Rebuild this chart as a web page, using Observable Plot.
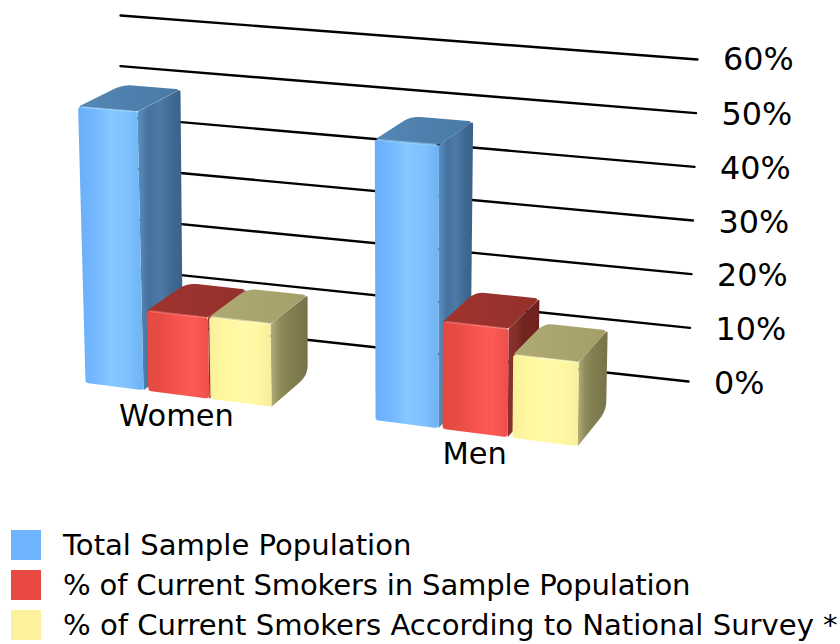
<!DOCTYPE html>
<html><head><meta charset="utf-8">
<script src="https://cdn.jsdelivr.net/npm/d3@7"></script>
<script src="https://cdn.jsdelivr.net/npm/@observablehq/plot@0.6"></script>
<style>
body{margin:0;background:#fff;font-family:"DejaVu Sans",sans-serif;color:#000;width:840px;overflow:hidden}
svg{display:block}
#legend{margin-top:20px}
.row{height:40px;position:relative;white-space:nowrap}
.sw{position:absolute;left:11px;top:0;width:30px;height:30px}
.tx{position:absolute;left:63px;top:-3px;font-size:29.1px;line-height:36px}
.row:nth-child(2) .tx{letter-spacing:-.17px}
</style></head><body>
<div id="chart"></div><div id="legend"></div>
<script>
const categories = ["Women", "Men"];
const series = ["Total Sample Population", "% of Current Smokers in Sample Population", "% of Current Smokers According to National Survey *"];
const women = [51.5, 14.8, 15];
const men = [50, 18.9, 14.5];
const ticks = [0, 10, 20, 30, 40, 50, 60];

// Perspective box: corners of the plot room, used to project (across, depth, value)
const box = {
  front: {l0:[36,376], l60:[26,57], r0:[634,453], r60:[640,103]},
  wall:  {l0:[120,319], l60:[120,15], r0:[688,381], r60:[697,59]}
};
const mix = (a,b,t)=>a+(b-a)*t;
function P(u,w,v){
  const t=v/60;
  return [0,1].map(i=>{
    const f=box.front, g=box.wall;
    const fy=mix(mix(f.l0[i],f.l60[i],t),mix(f.r0[i],f.r60[i],t),u);
    const gy=mix(mix(g.l0[i],g.l60[i],t),mix(g.r0[i],g.r60[i],t),u);
    return mix(fy,gy,w);
  });
}
const layout = [
  {start:.082, edges:[.097,.102,.102], gaps:[.008,.002]},
  {start:.567, edges:[.105,.109,.109], gaps:[.007,.008]}
];
const depth=.5;
const ramps = [
  {front:["#69aef8","#74b8ff","#86c8ff","#7fc2ff","#6fb2f2"], side:["#5a90c4","#44719f","#4d7aa6","#3f6a93","#3b6188"], top:["#5487b6","#4f80ad","#4a7aa6"], hi:"#a6dcff"},
  {front:["#e24a42","#e94c45","#f7544f","#fb5a55","#ee4f4a"], side:["#8c2e29","#86302b","#6e2420","#74231f","#6c201d"], top:["#a0332e","#9a322d","#94302b"], hi:"#ff8078"},
  {front:["#fbf09b","#fff7a0","#fffaa8","#fff8a2","#f7ee9c"], side:["#b5af78","#908b5a","#837f50","#7d794d","#76734a"], top:["#afaa73","#aaa56f","#a5a06a"], hi:"#fffdd0"}
];
const polys=[], edges=[];
let pid=0;
const poly=(pts,color)=>{const id=pid++;pts.forEach(p=>polys.push({id,x:p[0],y:p[1],color}));};
// rounded corners of a closed polygon, one radius per corner
function rounded(pts,rs){
  const out=[];
  pts.forEach((p,i)=>{
    const a=pts[(i+pts.length-1)%pts.length],b=pts[(i+1)%pts.length];
    const la=Math.hypot(a[0]-p[0],a[1]-p[1]),lb=Math.hypot(b[0]-p[0],b[1]-p[1]);
    const ra=Math.min(rs[i]/la,.45),rb=Math.min(rs[i]/lb,.45);
    const q1=[mix(p[0],a[0],ra),mix(p[1],a[1],ra)],q2=[mix(p[0],b[0],rb),mix(p[1],b[1],rb)];
    for(let s=0;s<=6;s++){
      const t=s/6;
      out.push([0,1].map(j=>(1-t)*(1-t)*q1[j]+2*t*(1-t)*p[j]+t*t*q2[j]));
    }
  });
  return out;
}
categories.forEach((c,ci)=>{
  const vals=[women,men][ci], L=layout[ci];
  let u=L.start;
  vals.forEach((v,si)=>{
    const u0=u,u1=u+L.edges[si],R=ramps[si];
    poly(rounded([P(u0,0,v),P(u1,0,v),P(u1,depth,v),P(u0,depth,v)],[3,4,5,10]),`url(#top${si})`);
    poly(rounded([P(u1,0,v),P(u1,depth,v),P(u1,depth,0),P(u1,0,0)],[0,3,10,0]),`url(#side${si})`);
    poly(rounded([P(u0,0,v),P(u1,0,v),P(u1,0,0),P(u0,0,0)],[3,3,4,3]),`url(#front${si})`);
    const id=pid++;
    [P(u0+.006,0,v),P(u1-.006,0,v)].forEach(p=>edges.push({id,x:p[0],y:p[1],color:R.hi}));
    u=u1+(L.gaps[si]||0);
  });
});
const grid=ticks.flatMap(t=>[0,1].map(u=>{const p=P(u,1,t);return {t,x:p[0],y:p[1]};}));
const tickLabels=ticks.map(t=>{const p=P(1,1,t);return {label:t+"%",x:p[0],y:p[1]+(t===60?-2:0)};});
const catLabels=categories.map((c,ci)=>{
  const L=layout[ci];
  const span=L.edges[0]+L.edges[1]+L.edges[2]+L.gaps[0]+L.gaps[1];
  const p=P(L.start+span/2,0,0);return {label:c,x:p[0]-2,y:p[1]-1};
});
const H=510;
const plot=Plot.plot({
  width:840,height:H,margin:0,
  x:{domain:[0,840],range:[0,840],axis:null},
  y:{domain:[0,H],range:[0,H],axis:null},
  color:{type:"identity"},
  marks:[
    Plot.line(grid,{x:"x",y:"y",z:"t",stroke:"#000",strokeWidth:2.4}),
    Plot.line(polys,{x:"x",y:"y",z:"id",fill:"color",stroke:"none"}),
    Plot.line(edges,{x:"x",y:"y",z:"id",stroke:"color",strokeWidth:2,strokeOpacity:.55,strokeLinecap:"round"}),
    Plot.text(tickLabels,{x:"x",y:"y",text:"label",dx:25.5,dy:2,textAnchor:"start",fontSize:31.8,fill:"#000",fontFamily:"DejaVu Sans"}),
    Plot.text(catLabels,{x:"x",y:"y",text:"label",dy:22,fontSize:30.5,fill:"#000",fontFamily:"DejaVu Sans"})
  ]
});
// gradient paints used by the bar faces
const defs=d3.select(plot).insert("defs",":first-child");
ramps.forEach((R,si)=>{
  [["front",R.front],["side",R.side],["top",R.top]].forEach(([n,stops])=>{
    const g=defs.append("linearGradient").attr("id",n+si).attr("x1",0).attr("x2",1).attr("y1",0).attr("y2",0);
    stops.forEach((s,i)=>g.append("stop").attr("offset",i/(stops.length-1)).attr("stop-color",s));
  });
});
document.getElementById("chart").append(plot);
const swatches=["#6eb4fe","#e84a43","#fdf29c"];
const lg=document.getElementById("legend");
series.forEach((s,i)=>{
  const r=document.createElement("div");r.className="row";
  const a=document.createElement("div");a.className="sw";a.style.background=swatches[i];
  const b=document.createElement("div");b.className="tx";b.textContent=s;
  r.append(a,b);lg.append(r);
});
</script></body></html>
